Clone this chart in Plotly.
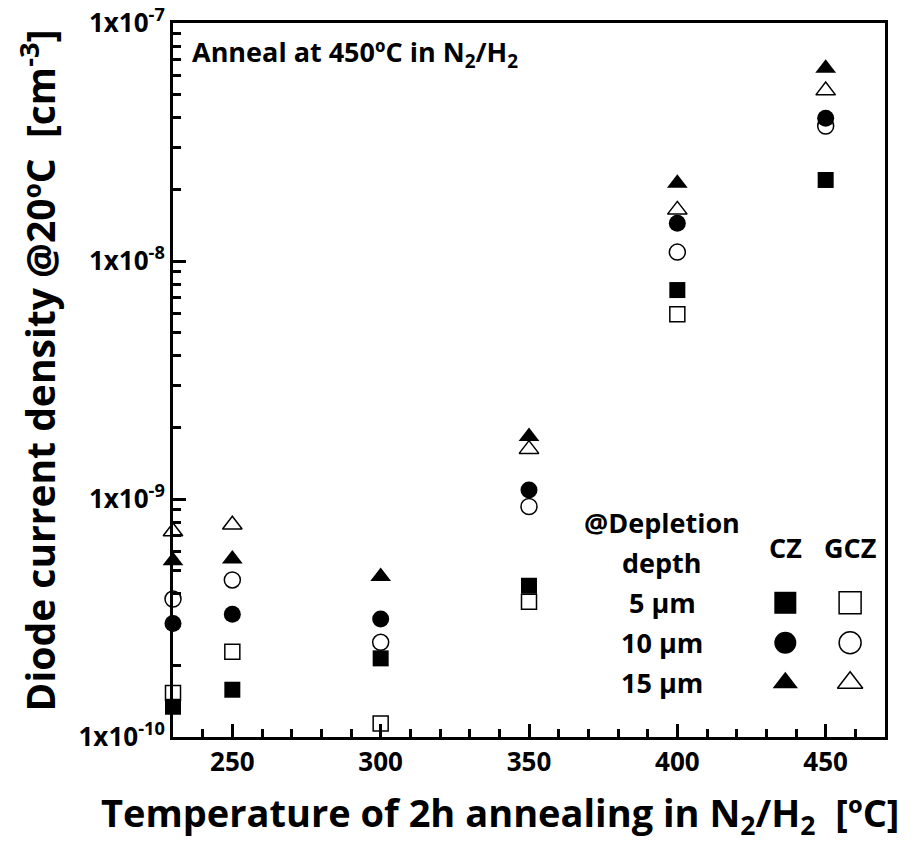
import plotly.graph_objects as go

temps = [230, 250, 300, 350, 400, 450]

cz_5um = [1.34e-10, 1.58e-10, 2.14e-10, 4.32e-10, 7.55e-9, 2.19e-8]
cz_10um = [3.0e-10, 3.28e-10, 3.13e-10, 1.09e-9, 1.44e-8, 3.98e-8]
cz_15um = [5.5e-10, 5.6e-10, 4.72e-10, 1.83e-9, 2.12e-8, 6.45e-8]

gcz_5um = [1.53e-10, 2.28e-10, 1.14e-10, 3.7e-10, 5.97e-9, None]
gcz_10um = [3.8e-10, 4.57e-10, 2.50e-10, 9.3e-10, 1.09e-8, 3.69e-8]
gcz_15um = [7.3e-10, 7.8e-10, None, 1.62e-9, 1.64e-8, 5.2e-8]

y_tickvals = [1e-10, 1e-9, 1e-8, 1e-7]
y_ticktext = ["1x10<sup>-10</sup>", "1x10<sup>-9</sup>", "1x10<sup>-8</sup>", "1x10<sup>-7</sup>"]
y_minor_vals = [m * d for d in (1e-10, 1e-9, 1e-8) for m in range(2, 10)]
x_tickvals = [250, 300, 350, 400, 450]

x_title = "Temperature of 2h annealing in N<sub>2</sub>/H<sub>2</sub>  [ºC]"
y_title = "Diode current density @20ºC  [cm<sup>-3</sup>]"
depth_labels = ["5 μm", "10 μm", "15 μm"]
FONT = "Open Sans"

fig = go.Figure()

def add_series(y, symbol, filled, size):
    fig.add_trace(go.Scatter(
        x=temps, y=y, mode="markers", cliponaxis=False, showlegend=False,
        marker=dict(symbol=symbol, size=size,
                    color="black" if filled else "white",
                    line=dict(color="black", width=0 if filled else 1.5))))

# open (GCZ) first, filled (CZ) on top
add_series(gcz_5um, "square", False, 15)
add_series(gcz_10um, "circle", False, 16)
add_series(gcz_15um, "triangle-up", False, 17)
add_series(cz_5um, "square", True, 16)
add_series(cz_10um, "circle", True, 17)
add_series(cz_15um, "triangle-up", True, 18)

# custom legend in overlay axes (0..1 space)
leg_x_cz = 0.86
leg_x_gcz = 0.951
leg_rows = [0.188, 0.132, 0.076]
leg_symbols = ["square", "circle", "triangle-up"]
for sym, yy in zip(leg_symbols, leg_rows):
    fig.add_trace(go.Scatter(x=[leg_x_cz], y=[yy], xaxis="x2", yaxis="y2", mode="markers",
                             showlegend=False, cliponaxis=False,
                             marker=dict(symbol=sym, size=22, color="black")))
    fig.add_trace(go.Scatter(x=[leg_x_gcz], y=[yy], xaxis="x2", yaxis="y2", mode="markers",
                             showlegend=False, cliponaxis=False,
                             marker=dict(symbol=sym, size=22, color="white",
                                         line=dict(color="black", width=1.5))))

tfont = dict(family=FONT, size=27, color="black", weight="bold")

def txt(text, x, y, xanchor="center", font=tfont, angle=0):
    return dict(text=text, x=x, y=y, xref="paper", yref="paper", showarrow=False,
                xanchor=xanchor, yanchor="middle", font=font, textangle=angle)

ann = [
    txt("@Depletion", 0.687, 0.301),
    txt("depth", 0.687, 0.245),
    txt("CZ", 0.86, 0.265),
    txt("GCZ", 0.951, 0.265),
]
for lab, yy in zip(depth_labels, leg_rows):
    ann.append(txt(lab, 0.687, yy))
ann.append(txt("Anneal at 450ºC in N<sub>2</sub>/H<sub>2</sub>", 0.024, 0.957, xanchor="left"))
ann.append(txt(x_title, 0.459, -0.108, font=dict(family=FONT, size=38, color="black", weight="bold")))
ann.append(txt(y_title, -0.19, 0.513, font=dict(family=FONT, size=39, color="black", weight="bold"), angle=-90))

fig.update_layout(
    width=912, height=846,
    margin=dict(l=173, r=27, t=23, b=109),
    paper_bgcolor="white", plot_bgcolor="white",
    font=dict(family=FONT, color="black"),
    annotations=ann,
    xaxis=dict(range=[230, 470], tickvals=x_tickvals, ticks="inside", ticklen=13, tickwidth=3,
               tickcolor="black", showline=True, linewidth=3, linecolor="black", mirror=True,
               showgrid=False, zeroline=False, automargin=False,
               tickfont=dict(family=FONT, size=26, color="black", weight="bold"),
               minor=dict(dtick=10, ticks="inside", ticklen=8, tickwidth=3, tickcolor="black", showgrid=False)),
    yaxis=dict(type="log", range=[-10, -7], tickvals=y_tickvals, ticktext=y_ticktext,
               ticks="inside", ticklen=13, tickwidth=3, tickcolor="black",
               showline=True, linewidth=3, linecolor="black", mirror=True,
               showgrid=False, zeroline=False, automargin=False,
               tickfont=dict(family=FONT, size=26, color="black", weight="bold"),
               minor=dict(tickvals=y_minor_vals, ticks="inside", ticklen=8, tickwidth=3,
                          tickcolor="black", showgrid=False)),
    xaxis2=dict(overlaying="x", range=[0, 1], visible=False),
    yaxis2=dict(overlaying="y", range=[0, 1], visible=False),
)

fig.write_html("out.html")
